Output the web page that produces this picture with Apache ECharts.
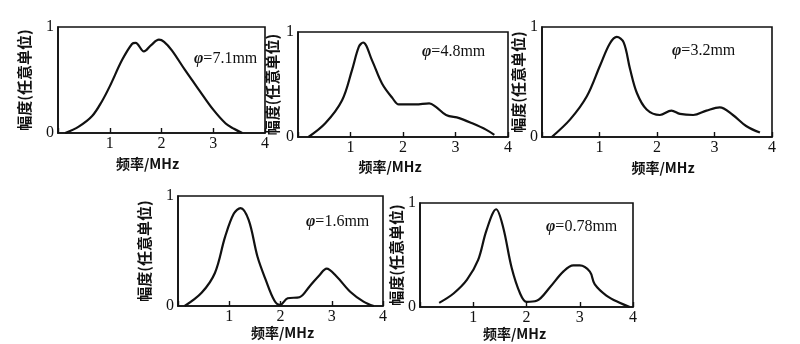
<!DOCTYPE html>
<html><head><meta charset="utf-8">
<script src="https://cdn.jsdelivr.net/npm/echarts@6/dist/echarts.min.js"></script>
<style>html,body{margin:0;padding:0;background:#fff}#c{width:800px;height:344px}</style>
</head><body><div id="c"></div>
<script>
const xName = '频率/MHz';
const yName = '幅度(任意单位)';
const diameters = ['7.1mm', '4.8mm', '3.2mm', '1.6mm', '0.78mm'];
const xMin = 0, xMax = 4, yMin = 0, yMax = 1;

const curve71 = [[0.14,0],[0.4,0.06],[0.66,0.16],[0.85,0.3],[1.0,0.44],[1.24,0.69],[1.43,0.84],[1.5,0.85],[1.66,0.77],[1.8,0.83],[1.95,0.88],[2.05,0.86],[2.2,0.78],[2.46,0.59],[2.72,0.41],[3.0,0.22],[3.24,0.09],[3.4,0.04],[3.56,0]];
const curve48 = [[0.2,0],[0.52,0.13],[0.84,0.35],[1.03,0.64],[1.16,0.86],[1.24,0.9],[1.41,0.73],[1.6,0.51],[1.8,0.37],[1.92,0.31],[2.24,0.31],[2.5,0.32],[2.62,0.29],[2.82,0.21],[3.07,0.18],[3.32,0.13],[3.58,0.07],[3.74,0.02]];
const curve32 = [[0.17,0],[0.49,0.16],[0.78,0.37],[1.01,0.65],[1.18,0.85],[1.3,0.91],[1.42,0.86],[1.53,0.62],[1.65,0.4],[1.82,0.25],[2.05,0.2],[2.25,0.24],[2.4,0.21],[2.63,0.2],[2.86,0.24],[3.09,0.27],[3.32,0.2],[3.55,0.1],[3.79,0.04]];
const curve16 = [[0.13,0],[0.46,0.12],[0.72,0.3],[0.92,0.63],[1.09,0.84],[1.22,0.89],[1.38,0.78],[1.55,0.45],[1.71,0.24],[1.88,0.05],[1.99,0.01],[2.14,0.07],[2.37,0.08],[2.57,0.18],[2.76,0.28],[2.9,0.34],[3.09,0.27],[3.36,0.13],[3.62,0.04],[3.82,0]];
const curve078 = [[0.36,0.04],[0.63,0.13],[0.88,0.26],[1.09,0.45],[1.25,0.74],[1.43,0.94],[1.56,0.77],[1.72,0.38],[1.88,0.13],[2.0,0.05],[2.19,0.06],[2.44,0.19],[2.69,0.34],[2.88,0.4],[3.0,0.4],[3.19,0.34],[3.28,0.22],[3.5,0.11],[3.75,0.04],[3.94,0]];
const curves = [curve71, curve48, curve32, curve16, curve078];

// layout (pixels)
const boxes = [
  {left:58, top:27, width:207, height:106, yGap:26, xGap:24, xShift:14, labX:194, labY:60},
  {left:298, top:32, width:210, height:105, yGap:18, xGap:23, xShift:13, labX:422, labY:53},
  {left:542, top:27, width:230, height:110, yGap:13, xGap:24, xShift:-6, labX:672, labY:52},
  {left:178, top:196, width:205, height:110, yGap:26, xGap:16, xShift:-2, labX:306, labY:223},
  {left:420, top:203, width:213, height:104, yGap:15, xGap:19, xShift:12, labX:546, labY:228}
];

const serif = '"Liberation Serif","DejaVu Serif",serif';
const cjk = '"Noto Sans CJK SC","Liberation Serif",sans-serif';
const ink = '#111';

const chart = echarts.init(document.getElementById('c'), null, {renderer:'canvas'});
const option = {
  backgroundColor:'#fff',
  animation:false,
  grid: boxes.map(b => ({left:b.left, top:b.top, width:b.width, height:b.height, show:true, borderColor:ink, borderWidth:1.6, backgroundColor:'transparent', containLabel:false})),
  xAxis: boxes.map((b,i) => ({
    gridIndex:i, type:'value', min:xMin, max:xMax, interval:1,
    name:xName, nameLocation:'middle', nameGap:b.xGap,
    nameTextStyle:{fontFamily:cjk, fontWeight:'bold', fontSize:14, color:ink,
      padding: b.xShift > 0 ? [0, 2*b.xShift, 0, 0] : [0, 0, 0, -2*b.xShift]},
    axisLine:{show:true, lineStyle:{color:ink, width:1.6}},
    axisTick:{show:true, inside:true, length:5, lineStyle:{color:ink, width:1.4}},
    axisLabel:{fontFamily:serif, fontSize:16, color:ink, margin:3, formatter:v => v===0 ? '' : String(v)},
    splitLine:{show:false}
  })),
  yAxis: boxes.map((b,i) => ({
    gridIndex:i, type:'value', min:yMin, max:yMax, interval:1,
    name:yName, nameLocation:'middle', nameRotate:90, nameGap:b.yGap,
    nameTextStyle:{fontFamily:cjk, fontWeight:'bold', fontSize:15, color:ink},
    axisLine:{show:true, lineStyle:{color:ink, width:1.6}},
    axisTick:{show:false},
    axisLabel:{fontFamily:serif, fontSize:16, color:ink, margin:4},
    splitLine:{show:false}
  })),
  series: curves.map((c,i) => ({
    type:'line', xAxisIndex:i, yAxisIndex:i, data:c, smooth:0.35,
    showSymbol:false, lineStyle:{color:ink, width:2.2}, silent:true
  })),
  graphic: boxes.map((b,i) => ({
    type:'text', left:b.labX, top:b.labY-9,
    style:{
      text:'{p|φ}{t|=' + diameters[i] + '}',
      rich:{
        p:{fontFamily:serif, fontStyle:'italic', fontWeight:'bold', fontSize:16, fill:ink},
        t:{fontFamily:serif, fontSize:16, fill:ink}
      }
    }
  }))
};
chart.setOption(option);
</script></body></html>
